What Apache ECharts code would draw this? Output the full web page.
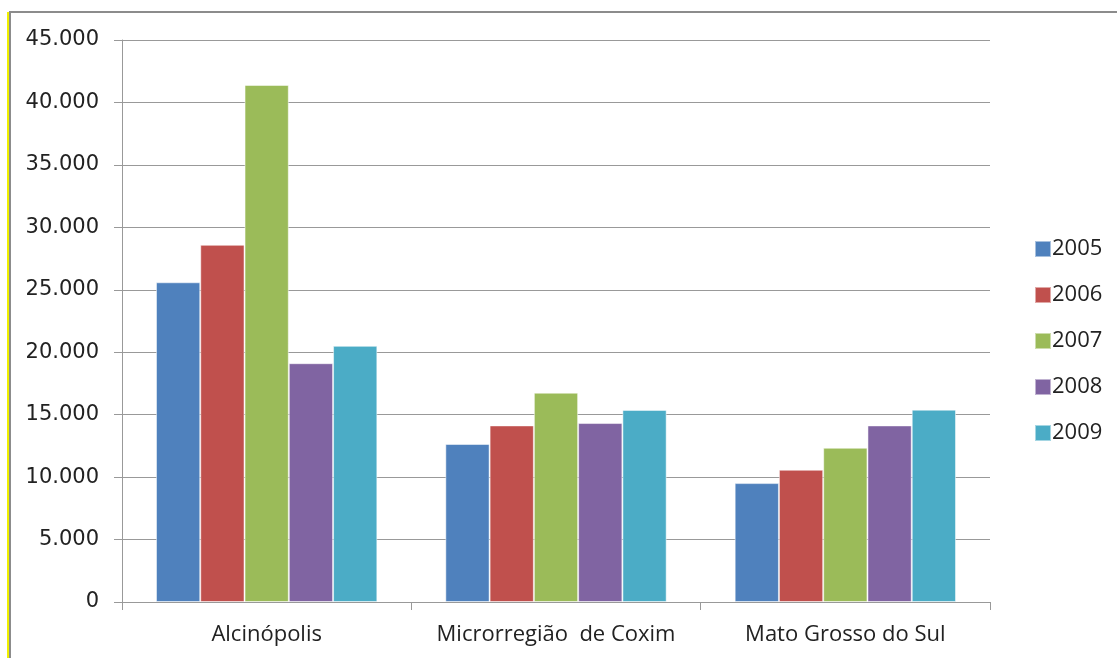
<!DOCTYPE html>
<html>
<head>
<meta charset="utf-8">
<script src="https://cdn.jsdelivr.net/npm/echarts@6/dist/echarts.min.js"></script>
<style>
  html, body { margin: 0; padding: 0; background: #fff; }
  #chart { width: 1117px; height: 658px; }
</style>
</head>
<body>
<div id="chart"></div>
<script>
// categorias (eixo x) e anos (legenda)
var categorias = ['Alcinópolis', 'Microrregião  de Coxim', 'Mato Grosso do Sul'];
var anos = ['2005', '2006', '2007', '2008', '2009'];

// valores, um array por ano
var v2005 = [25600, 12650, 9520];
var v2006 = [28600, 14140, 10590];
var v2007 = [41400, 16760, 12350];
var v2008 = [19120, 14330, 14140];
var v2009 = [20510, 15380, 15400];
var valores = [v2005, v2006, v2007, v2008, v2009];

var cores = ['#4F81BD', '#C0504D', '#9BBB59', '#8064A2', '#4BACC6'];

function fmt(v) {   // 45000 -> 45.000
  return String(v).replace(/\B(?=(\d{3})+(?!\d))/g, '.');
}

var myChart = echarts.init(document.getElementById('chart'));
var option = {
  animation: false,
  color: cores,
  grid: { left: 122, right: 127, top: 40, bottom: 56 },
  graphic: [
    { type: 'rect', shape: { x: 10, y: 12, width: 1200, height: 700 },
      style: { fill: 'none', stroke: '#8c8c8c', lineWidth: 2 }, silent: true },
    { type: 'line', shape: { x1: 8, y1: 12, x2: 8, y2: 658 },
      style: { stroke: '#f0f000', lineWidth: 2 }, silent: true }
  ],
  legend: {
    orient: 'vertical',
    left: 1029,
    top: 233,
    itemWidth: 16,
    itemHeight: 16,
    itemGap: 24,
    icon: 'rect',
    data: anos,
    textStyle: { fontFamily: 'Open Sans', fontSize: 22, color: '#222', padding: [0, 0, 0, -4] }
  },
  xAxis: {
    type: 'category',
    data: categorias,
    axisLine: { lineStyle: { color: '#999', width: 1 } },
    axisTick: { show: true, length: 8, lineStyle: { color: '#999' } },
    axisLabel: { interval: 0, hideOverlap: false, margin: 22, fontFamily: 'Open Sans', fontSize: 22, color: '#222' }
  },
  yAxis: {
    type: 'value',
    min: 0,
    max: 45000,
    interval: 5000,
    axisLine: { show: true, lineStyle: { color: '#999' } },
    axisTick: { show: true, length: 8, lineStyle: { color: '#999' } },
    splitLine: { lineStyle: { color: '#999', width: 1 } },
    axisLabel: { margin: 23, fontFamily: 'DejaVu Sans', fontSize: 21, color: '#222', formatter: fmt }
  },
  series: anos.map(function (ano, i) {
    return {
      name: ano,
      type: 'bar',
      data: valores[i],
      barGap: '0%',
      barCategoryGap: '23.5%',
      itemStyle: { borderColor: 'rgba(255,255,255,0.5)', borderWidth: 1 }
    };
  })
};
myChart.setOption(option);
</script>
</body>
</html>
